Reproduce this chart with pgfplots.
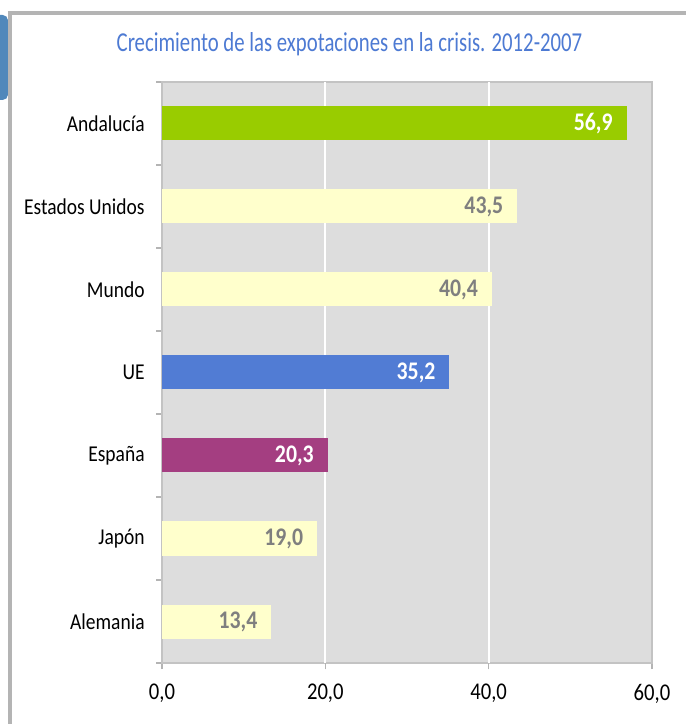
\documentclass[border=0pt]{standalone}
\usepackage{pgfplots}
\pgfplotsset{compat=1.18}
\usepackage{fontspec}
\setmainfont{Carlito}[FakeStretch=0.86]
\newfontfamily\titlefont{Carlito}[FakeStretch=0.76]
\definecolor{cgreen}{HTML}{99CC00}
\definecolor{cyell}{HTML}{FFFFCC}
\definecolor{cblue}{HTML}{517CD4}
\definecolor{cmag}{HTML}{A43E81}
\definecolor{ctitle}{HTML}{4D7AD3}
\definecolor{cbg}{HTML}{DDDDDD}
\definecolor{cframe}{HTML}{B4B4B4}
\definecolor{cside}{HTML}{5088BB}
\definecolor{clab}{HTML}{7F7F7F}
\begin{document}
\begin{tikzpicture}
\begin{scope}[x=0.75pt,y=0.75pt]
\path[use as bounding box] (0,0) rectangle (686,724);
\fill[cside, rounded corners=4pt] (-6,624) rectangle (8,709);
\fill[cframe] (8,0) rectangle (12,713);
\fill[cframe] (8,709) rectangle (686,713);
\fill[white] (12,0) rectangle (686,709);
\node[text=ctitle, font=\titlefont\fontsize{20.5}{24}\selectfont] at (349.5,680) {Crecimiento de las expotaciones en la crisis. 2012-2007};
\end{scope}
\begin{axis}[
  at={(121.5pt,45.75pt)}, anchor=south west,
  scale only axis, width=367.5pt, height=435.75pt,
  xbar, bar width=25.5pt,
  xmin=0, xmax=60, ymin=-0.5, ymax=6.5,
  xtick={0,20,40,60},
  ytick={0,...,6},
  yticklabels={Alemania,Japón,España,UE,Mundo,Estados Unidos,Andalucía},
  minor ytick={-0.5,0.5,...,6.5},
  tick align=outside, major tick length=4.5pt, minor tick length=4.5pt,
  xtick pos=bottom, ytick pos=left,
  major y tick style={draw=none},
  minor y tick style={draw=cframe, line width=0.8pt},
  xtick style={draw=cframe, line width=0.8pt},
  extra x ticks={20,40}, extra x tick labels={},
  extra x tick style={grid=major, major grid style={white, line width=1.5pt}, tick style={draw=none}},
  axis background/.style={fill=cbg},
  axis line style={draw=cframe!80, line width=0.8pt},
  /pgf/number format/.cd, use comma, fixed, fixed zerofill, precision=1, assume math mode=true,
  /pgfplots/.cd,
  yticklabel style={font=\fontsize{17}{20}\selectfont, xshift=-5pt},
  xticklabel style={font=\fontsize{18}{21}\selectfont, yshift=-8pt},
  point meta=x,
  nodes near coords,
  every node near coord/.append style={anchor=east, xshift=-7pt, font=\fontsize{19}{21}\selectfont\bfseries},
  bar shift=0pt,
  clip=false,
]
\addplot[fill=cyell, draw=none, nodes near coords style={text=clab}] coordinates {(13.4,0)};
\addplot[fill=cyell, draw=none, nodes near coords style={text=clab}] coordinates {(19.0,1)};
\addplot[fill=cmag, draw=none, nodes near coords style={text=white}] coordinates {(20.3,2)};
\addplot[fill=cblue, draw=none, nodes near coords style={text=white}] coordinates {(35.2,3)};
\addplot[fill=cyell, draw=none, nodes near coords style={text=clab}] coordinates {(40.4,4)};
\addplot[fill=cyell, draw=none, nodes near coords style={text=clab}] coordinates {(43.5,5)};
\addplot[fill=cgreen, draw=none, nodes near coords style={text=white}] coordinates {(56.9,6)};
\end{axis}
\end{tikzpicture}
\end{document}
